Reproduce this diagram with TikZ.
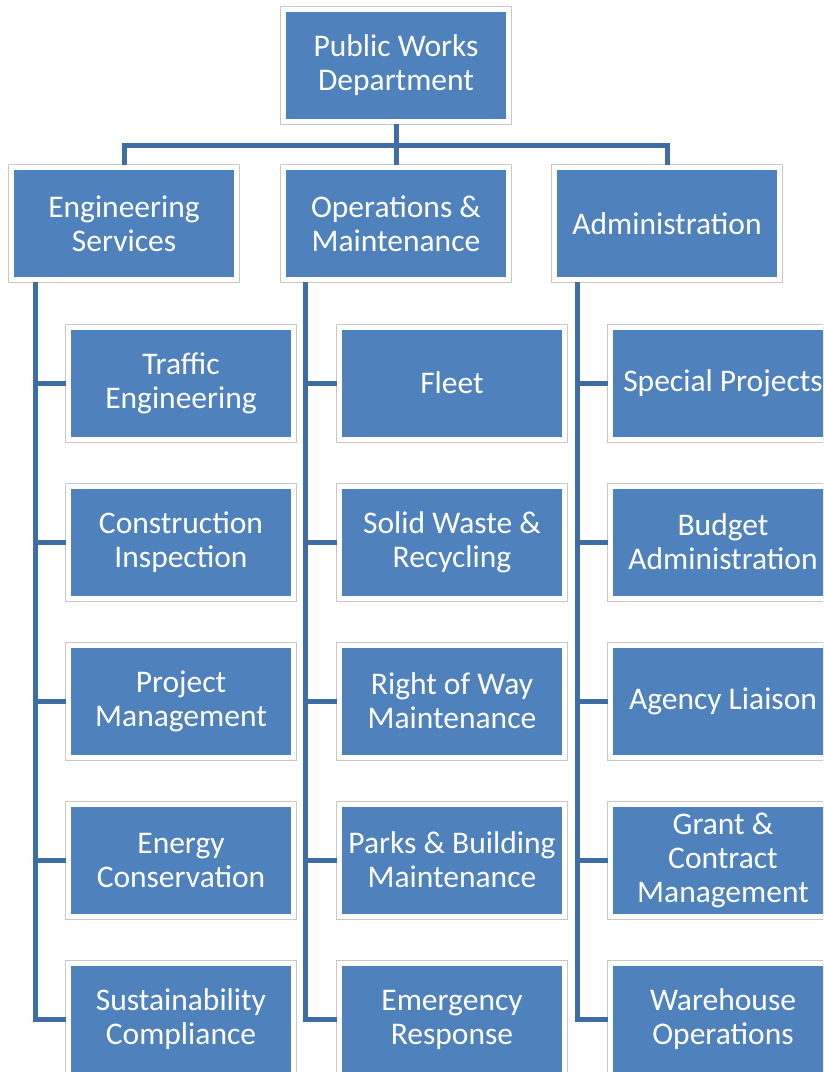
\documentclass[tikz,border=0pt]{standalone}
\usepackage{fontspec}
\setmainfont{Carlito}
\usepackage{xcolor}
\definecolor{unitblue}{HTML}{4F81BD}
\definecolor{linkblue}{HTML}{3F6CA3}
\definecolor{rimgrey}{HTML}{C8C8C8}
\tikzset{
  unit/.style={rectangle, fill=unitblue, draw=white, line width=5pt,
    preaction={draw=rimgrey, line width=7pt},
    minimum width=225pt, minimum height=112pt, inner sep=0pt,
    text=white, align=center, font=\fontsize{31.5}{34}\selectfont},
  link/.style={draw=linkblue, line width=5pt}
}

\begin{document}
\begin{tikzpicture}[x=1pt,y=-1pt]
        \useasboundingbox (0,0) rectangle (823,1072);
        \clip (0,0) rectangle (823,1072);

        % units
        \node[unit] (pwd) at (396,65) {Public Works\\Department};
        \node[unit] (eng) at (124,223.5) {Engineering\\Services};
        \node[unit] (ops) at (396,223.5) {Operations \&\\Maintenance};
        \node[unit] (adm) at (667,223.5) {Administration};

        \node[unit] (eng1) at (181,383) {Traffic\\Engineering};
        \node[unit] (eng2) at (181,542) {Construction\\Inspection};
        \node[unit] (eng3) at (181,701) {Project\\Management};
        \node[unit] (eng4) at (181,860) {Energy\\Conservation};
        \node[unit] (eng5) at (181,1019.5) {Sustainability\\Compliance};

        \node[unit] (ops1) at (452,383) {Fleet};
        \node[unit] (ops2) at (452,542) {Solid Waste \&\\Recycling};
        \node[unit] (ops3) at (452,701) {Right of Way\\Maintenance};
        \node[unit] (ops4) at (452,860) {Parks \& Building\\Maintenance};
        \node[unit] (ops5) at (452,1019.5) {Emergency\\Response};

        \node[unit] (adm1) at (723,383) {Special Projects};
        \node[unit] (adm2) at (723,542) {Budget\\Administration};
        \node[unit] (adm3) at (723,701) {Agency Liaison};
        \node[unit] (adm4) at (723,860) {Grant \&\\Contract\\Management};
        \node[unit] (adm5) at (723,1019.5) {Warehouse\\Operations};

        % connectors from the top
        \coordinate (bus) at ([yshift=-21.5pt]pwd.south);
        \draw[link] (eng.north) |- (bus) -| (adm.north);
        \draw[link] (pwd.south) -- (ops.north);

        % trunks down each column
        \coordinate (engtrunk) at ([xshift=-89pt]eng.south);
        \coordinate (opstrunk) at ([xshift=-90.5pt]ops.south);
        \coordinate (admtrunk) at ([xshift=-90pt]adm.south);
        \foreach \c in {eng,ops,adm} {
            \draw[link] (\c trunk) |- (\c 5.west);
            \foreach \i in {1,...,4}
                \draw[link] (\c trunk |- \c\i.west) -- (\c\i.west);
        }
\end{tikzpicture}
\end{document}
